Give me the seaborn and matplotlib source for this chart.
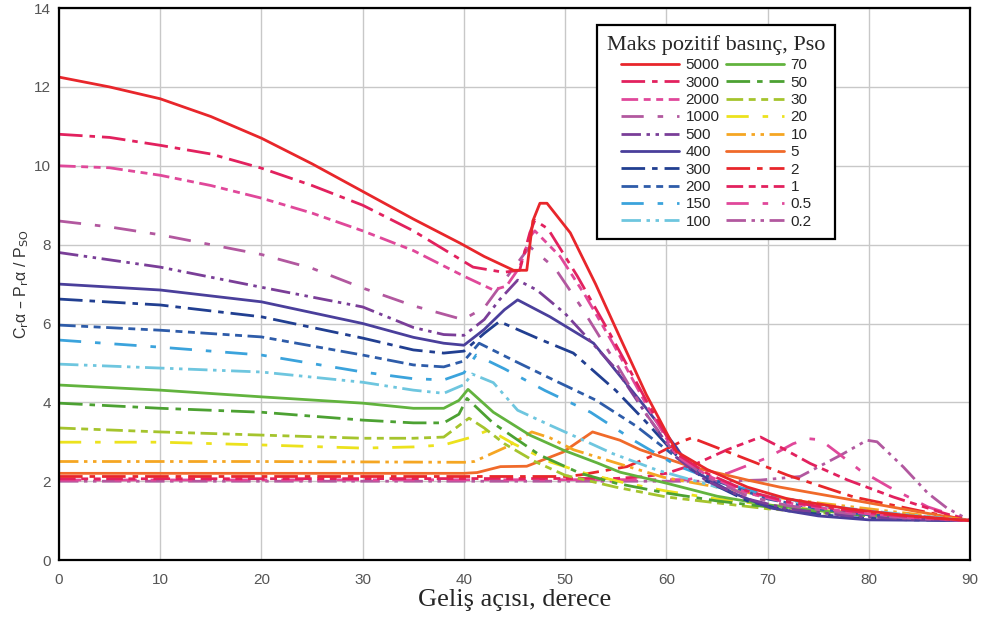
import matplotlib
matplotlib.use("Agg")
import matplotlib.pyplot as plt
import seaborn as sns

# Reflected pressure coefficient vs. angle of incidence, one curve per Pso
pso_labels = ["5000", "3000", "2000", "1000", "500", "400", "300", "200", "150", "100",
              "70", "50", "30", "20", "10", "5", "2", "1", "0.5", "0.2"]

ang_5000 = [0, 5, 10, 15, 20, 25, 30, 35, 39.6, 42, 44.9, 46.2, 46.8, 47.5, 48.2, 50.5, 53, 55.4, 58, 61, 64, 68, 72, 78, 84, 90]
cr_5000 = [12.25, 12.0, 11.7, 11.25, 10.7, 10.05, 9.35, 8.65, 8.04, 7.7, 7.35, 7.35, 8.6, 9.05, 9.05, 8.3, 7.0, 5.65, 4.2, 2.75, 2.3, 1.85, 1.55, 1.3, 1.12, 1.0]

ang_3000 = [0, 5, 10, 15, 20, 25, 30, 35, 40.9, 43.9, 45.5, 46.5, 47, 48.3, 51.2, 54.4, 58, 61, 64, 68, 72, 78, 84, 90]
cr_3000 = [10.8, 10.72, 10.52, 10.3, 9.94, 9.5, 9.0, 8.35, 7.43, 7.3, 7.35, 8.3, 8.62, 8.4, 7.2, 5.75, 4.05, 2.7, 2.2, 1.75, 1.48, 1.25, 1.1, 1.0]

ang_2000 = [0, 5, 10, 15, 20, 25, 30, 35, 40, 42.9, 44.2, 45.5, 46.5, 47, 49.5, 52, 54.7, 58, 61, 64, 68, 72, 78, 84, 90]
cr_2000 = [10.0, 9.95, 9.76, 9.5, 9.18, 8.8, 8.35, 7.85, 7.2, 6.85, 6.95, 7.43, 8.2, 8.35, 7.7, 6.7, 5.5, 3.95, 2.65, 2.15, 1.7, 1.45, 1.22, 1.08, 1.0]

ang_1000 = [0, 5, 10, 15, 20, 25, 30, 35, 39.9, 42, 44, 46.5, 49, 51.5, 55, 58, 61, 64, 68, 72, 78, 84, 90]
cr_1000 = [8.6, 8.45, 8.25, 8.0, 7.75, 7.4, 6.9, 6.45, 6.1, 6.4, 7.1, 7.95, 7.4, 6.45, 5.0, 3.7, 2.65, 2.1, 1.62, 1.38, 1.18, 1.06, 1.0]

ang_500 = [0, 10, 20, 30, 35, 38, 40, 42, 43.5, 45.3, 47.2, 50, 55, 58, 61, 64, 68, 72, 78, 84, 90]
cr_500 = [7.8, 7.43, 6.92, 6.42, 5.9, 5.72, 5.7, 6.1, 6.6, 7.1, 6.85, 6.25, 4.85, 3.7, 2.6, 2.0, 1.55, 1.3, 1.12, 1.04, 1.0]

ang_400 = [0, 10, 20, 30, 35, 38, 40, 42, 44, 45.3, 48.5, 52.8, 58, 61, 62.4, 66.6, 70.3, 75, 80, 90]
cr_400 = [7.0, 6.85, 6.55, 6.0, 5.65, 5.5, 5.45, 5.85, 6.35, 6.6, 6.17, 5.5, 3.85, 2.85, 2.3, 1.7, 1.32, 1.12, 1.02, 1.0]

ang_300 = [0, 10, 20, 30, 35, 38, 40, 42, 43.5, 47.5, 50.8, 55, 58, 61, 64, 68, 72, 78, 84, 90]
cr_300 = [6.62, 6.47, 6.17, 5.63, 5.33, 5.25, 5.3, 5.75, 6.05, 5.6, 5.25, 4.3, 3.5, 2.65, 2.0, 1.5, 1.25, 1.08, 1.02, 1.0]

ang_200 = [0, 10, 20, 30, 35, 38, 40, 41.5, 45, 49, 53, 57, 61, 65, 70, 75, 80, 85, 90]
cr_200 = [5.96, 5.83, 5.66, 5.2, 4.95, 4.9, 5.05, 5.5, 5.05, 4.55, 4.06, 3.4, 2.6, 2.0, 1.55, 1.3, 1.15, 1.05, 1.0]

ang_150 = [0, 10, 20, 30, 35, 38, 40, 41.2, 44, 48, 52.5, 57, 61, 65, 70, 75, 80, 85, 90]
cr_150 = [5.58, 5.4, 5.2, 4.77, 4.6, 4.57, 4.75, 5.2, 4.85, 4.3, 3.75, 3.0, 2.4, 2.0, 1.65, 1.4, 1.22, 1.1, 1.0]

ang_100 = [0, 10, 20, 30, 35, 38, 40, 40.8, 42.9, 45.3, 48.5, 51.8, 54.7, 59.1, 65, 70, 75, 80, 85, 90]
cr_100 = [4.97, 4.87, 4.77, 4.51, 4.31, 4.23, 4.45, 4.72, 4.5, 3.8, 3.42, 3.04, 2.7, 2.28, 1.85, 1.6, 1.4, 1.25, 1.12, 1.0]

ang_70 = [0, 10, 20, 30, 35, 38, 39.5, 40.4, 42.9, 46.5, 49.8, 53.2, 55.4, 60, 65, 70, 75, 80, 85, 90]
cr_70 = [4.44, 4.31, 4.14, 3.98, 3.85, 3.85, 4.05, 4.33, 3.75, 3.17, 2.79, 2.46, 2.23, 1.95, 1.62, 1.4, 1.25, 1.15, 1.07, 1.0]

ang_50 = [0, 10, 20, 30, 35, 38, 39.5, 40.3, 42.9, 47.5, 51.5, 55, 60, 65, 70, 75, 80, 85, 90]
cr_50 = [3.98, 3.85, 3.75, 3.55, 3.48, 3.48, 3.7, 4.1, 3.47, 2.66, 2.2, 1.95, 1.7, 1.5, 1.35, 1.22, 1.13, 1.06, 1.0]

ang_30 = [0, 10, 20, 30, 35, 38, 40.5, 42, 44, 47, 50, 55, 60, 65, 70, 75, 80, 85, 90]
cr_30 = [3.35, 3.25, 3.17, 3.09, 3.09, 3.12, 3.6, 3.35, 2.95, 2.5, 2.15, 1.85, 1.6, 1.45, 1.3, 1.2, 1.12, 1.05, 1.0]

ang_20 = [0, 10, 20, 30, 35, 38, 40.5, 42.5, 44.9, 47.2, 48.5, 52, 56, 60, 65, 70, 75, 80, 85, 90]
cr_20 = [2.99, 2.99, 2.92, 2.84, 2.87, 2.92, 3.1, 3.3, 2.95, 2.66, 2.49, 2.2, 1.95, 1.75, 1.55, 1.4, 1.27, 1.17, 1.08, 1.0]

ang_10 = [0, 20, 40, 41, 44.2, 46.7, 48.5, 50.8, 54.7, 59.7, 65, 70, 75, 80, 85, 90]
cr_10 = [2.5, 2.5, 2.48, 2.5, 2.87, 3.25, 3.1, 2.8, 2.49, 2.1, 1.85, 1.62, 1.45, 1.3, 1.15, 1.0]

ang_5 = [0, 40, 41.3, 43.6, 46.2, 49.8, 52.7, 55.4, 57.4, 62.4, 68, 71.2, 80, 85, 90]
cr_5 = [2.2, 2.2, 2.22, 2.37, 2.38, 2.74, 3.25, 3.04, 2.8, 2.37, 2.03, 1.85, 1.45, 1.22, 1.0]

ang_2 = [0, 50, 51.5, 56.1, 59.1, 61.4, 62.5, 64, 68, 72, 78.5, 85, 90]
cr_2 = [2.12, 2.12, 2.16, 2.37, 2.7, 3.0, 3.1, 2.95, 2.55, 2.15, 1.6, 1.25, 1.0]

ang_1 = [0, 55, 58, 60, 63, 66, 69.3, 71.5, 74.2, 77.9, 82.4, 87, 90]
cr_1 = [2.06, 2.07, 2.12, 2.2, 2.45, 2.8, 3.12, 2.83, 2.45, 2.03, 1.6, 1.22, 1.0]

ang_05 = [0, 62, 66, 70, 72.5, 74, 75.2, 77, 79.1, 82, 85.8, 90]
cr_05 = [2.03, 2.04, 2.2, 2.6, 2.95, 3.08, 3.05, 2.7, 2.28, 1.85, 1.35, 1.0]

ang_02 = [0, 65, 69.3, 73.2, 77.2, 79.8, 80.8, 83.4, 85.8, 87.7, 90]
cr_02 = [2.0, 2.0, 2.03, 2.12, 2.66, 3.04, 3.0, 2.36, 1.7, 1.32, 1.0]

angles = [ang_5000, ang_3000, ang_2000, ang_1000, ang_500, ang_400, ang_300, ang_200, ang_150, ang_100,
          ang_70, ang_50, ang_30, ang_20, ang_10, ang_5, ang_2, ang_1, ang_05, ang_02]
coeffs = [cr_5000, cr_3000, cr_2000, cr_1000, cr_500, cr_400, cr_300, cr_200, cr_150, cr_100,
          cr_70, cr_50, cr_30, cr_20, cr_10, cr_5, cr_2, cr_1, cr_05, cr_02]

# colours / dash patterns (5 patterns repeat every 5 curves)
line_colors = ["#e8262b", "#e2215e", "#e0489a", "#b2589f", "#7a3e98",
               "#4a3f9b", "#213f91", "#2e5ca9", "#3ba3dc", "#6ec6df",
               "#62b33e", "#4ca132", "#a5c42d", "#ece21d", "#f5a623",
               "#f06a2a", "#e8262b", "#e2215e", "#e0489a", "#b2589f"]
solid = "-"
long_short = (0, (17, 5, 4, 5))
dash_two = (0, (12, 4, 5, 4, 5, 4))
dash_gap = (0, (16, 10, 4, 10))
dash_dots = (0, (14, 4, 2.5, 4, 2.5, 4))
line_styles = [solid, long_short, dash_two, dash_gap, dash_dots] * 4

sns.set_style("whitegrid", {"grid.color": "#c8c8c8", "axes.edgecolor": "black"})
plt.rcParams['font.family'] = ['Liberation Sans', 'DejaVu Sans']
plt.rcParams['lines.scale_dashes'] = False

fig, ax = plt.subplots(figsize=(9.83, 6.23), dpi=100)
fig.subplots_adjust(left=0.060, right=0.987, bottom=0.101, top=0.987)

handles = {}
for i in reversed(range(len(pso_labels))):
    sns.lineplot(x=angles[i], y=coeffs[i], color=line_colors[i], linestyle=line_styles[i],
                 linewidth=2.0, estimator=None, sort=False, ax=ax, legend=False)
    handles[pso_labels[i]] = ax.lines[-1]

ax.set_xlim(0, 90)
ax.set_ylim(0, 14)
ax.set_xticks(range(0, 91, 10))
ax.set_yticks(range(0, 15, 2))
ax.grid(True, color="#c8c8c8", linewidth=1.0)
ax.tick_params(axis="both", length=0, labelsize=11, labelcolor="#555555")
ax.tick_params(axis="x", pad=9)
ax.tick_params(axis="y", pad=6)
for side in ["left", "bottom", "right", "top"]:
    ax.spines[side].set_color("black")
    ax.spines[side].set_linewidth(1.6)

ax.set_xlabel("Geliş açısı, derece", family="Liberation Serif", fontsize=19, labelpad=2)
ax.set_ylabel(r"C$_\mathrm{r}$α – P$_\mathrm{r}$α / P$_\mathrm{SO}$", fontsize=11.5,
              labelpad=2, color="#333333")

leg = ax.legend([handles[l] for l in pso_labels], pso_labels, ncol=2,
                title="Maks pozitif basınç, Pso", loc="upper left",
                bbox_to_anchor=(0.5906, 0.969), borderaxespad=0, frameon=True,
                fancybox=False, edgecolor="black", framealpha=1, fontsize=11,
                title_fontproperties={"family": "Liberation Serif", "size": 16},
                handlelength=3.8, columnspacing=0.4, labelspacing=0.22,
                handletextpad=0.45, borderpad=0.65)
leg.get_frame().set_linewidth(1.6)

fig.savefig("out.png", dpi=100)
